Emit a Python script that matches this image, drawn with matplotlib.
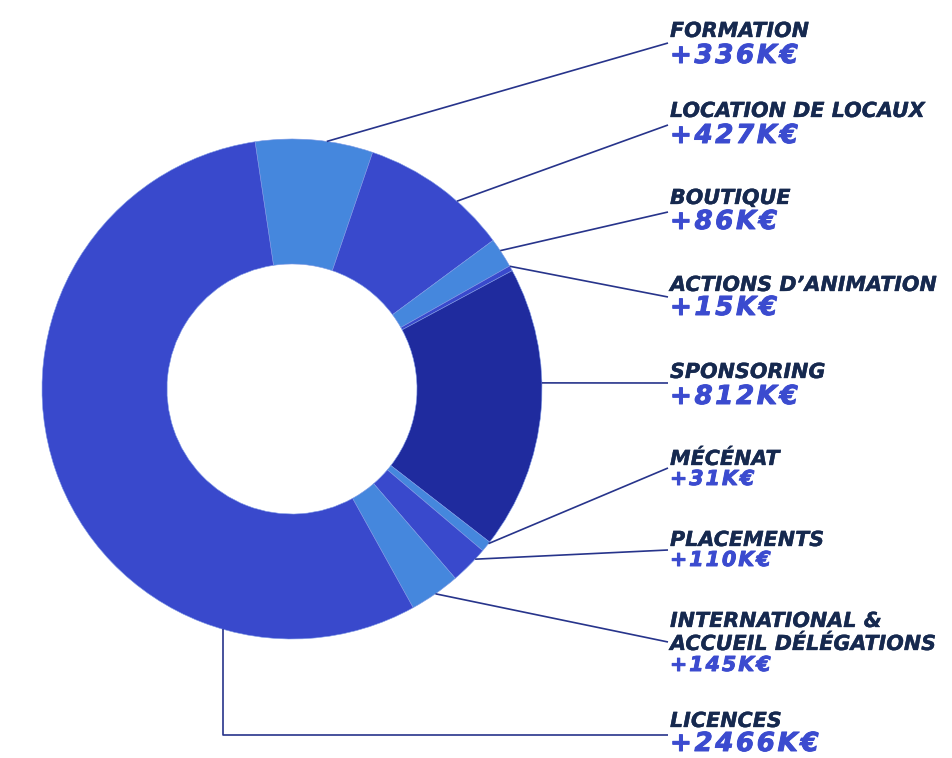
import matplotlib
matplotlib.use("Agg")
import matplotlib.pyplot as plt
import matplotlib.patheffects as pe
import numpy as np

# ---- data ----
labels = ["FORMATION", "LOCATION DE LOCAUX", "BOUTIQUE", "ACTIONS D’ANIMATION",
          "SPONSORING", "MÉCÉNAT", "PLACEMENTS",
          "INTERNATIONAL &\nACCUEIL DÉLÉGATIONS", "LICENCES"]
values = [336, 427, 86, 15, 812, 31, 110, 145, 2466]
value_texts = ["+336K€", "+427K€", "+86K€", "+15K€", "+812K€", "+31K€",
               "+110K€", "+145K€", "+2466K€"]

# ---- style / layout ----
LIGHT = "#4587DD"
MED = "#3949CC"
DARK = "#1F2B9E"
colors = [LIGHT, MED, LIGHT, MED, DARK, LIGHT, MED, LIGHT, MED]
label_color = "#16294F"
value_color = "#3B4BCF"
line_color = "#27348B"

W, H = 952, 758
cx, cy = 292, H - 389
R, ring = 250, 125

# label baselines (pixels from top)
label_base = [37, 117, 204, 291, 378, 465, 546, 627, 727]
value_base = [63, 143, 229, 315, 404, 485, 566, 671, 751]
value_big = [True, True, True, True, True, False, False, False, True]
line_end_y = [43, 125, 212, 297, 383, 468, 550, 642, 735]
anchor_deg = [82, 48.7, 33.6, 29.4, 1.4, -38.2, -42.9, -55, -106]
elbow = [False] * 8 + [True]

HAIR = "\u200a"


def spaced(s):
    return HAIR.join(s)


fig = plt.figure(figsize=(W / 100, H / 100), dpi=100)
ax = fig.add_axes([0, 0, 1, 1])

ax.pie(values, colors=colors, startangle=98.5, counterclock=False,
       radius=R, center=(cx, cy), frame=True,
       wedgeprops=dict(width=ring, edgecolor="#7f9ae6", linewidth=0.4))

ax.set_xlim(0, W)
ax.set_ylim(0, H)
ax.set_aspect("equal")
ax.axis("off")

tx = 670
for i in range(len(labels)):
    a = np.deg2rad(anchor_deg[i])
    x0, y0 = cx + R * np.cos(a), cy + R * np.sin(a)
    ye = H - line_end_y[i]
    if elbow[i]:
        ax.plot([x0, x0, tx - 2], [y0, ye, ye], color=line_color, lw=1.2,
                solid_capstyle="butt")
    else:
        ax.plot([x0, tx - 2], [y0, ye], color=line_color, lw=1.2,
                solid_capstyle="butt")

    lines = labels[i].split("\n")
    lb = label_base[i]
    for k, ln in enumerate(lines):
        ax.text(tx, H - (lb + k * 23), ln, fontsize=14.9,
                fontweight="bold", fontstyle="italic", color=label_color,
                va="baseline", ha="left", family="DejaVu Sans",
                path_effects=[pe.withStroke(linewidth=0.25, foreground=label_color)])
    ax.text(tx, H - value_base[i], spaced(value_texts[i]),
            fontsize=18.8 if value_big[i] else 14.8, fontweight="bold",
            fontstyle="italic", color=value_color, va="baseline", ha="left",
            family="DejaVu Sans",
            path_effects=[pe.withStroke(linewidth=0.7, foreground=value_color)])

fig.savefig("out.png", dpi=100, facecolor="white")
